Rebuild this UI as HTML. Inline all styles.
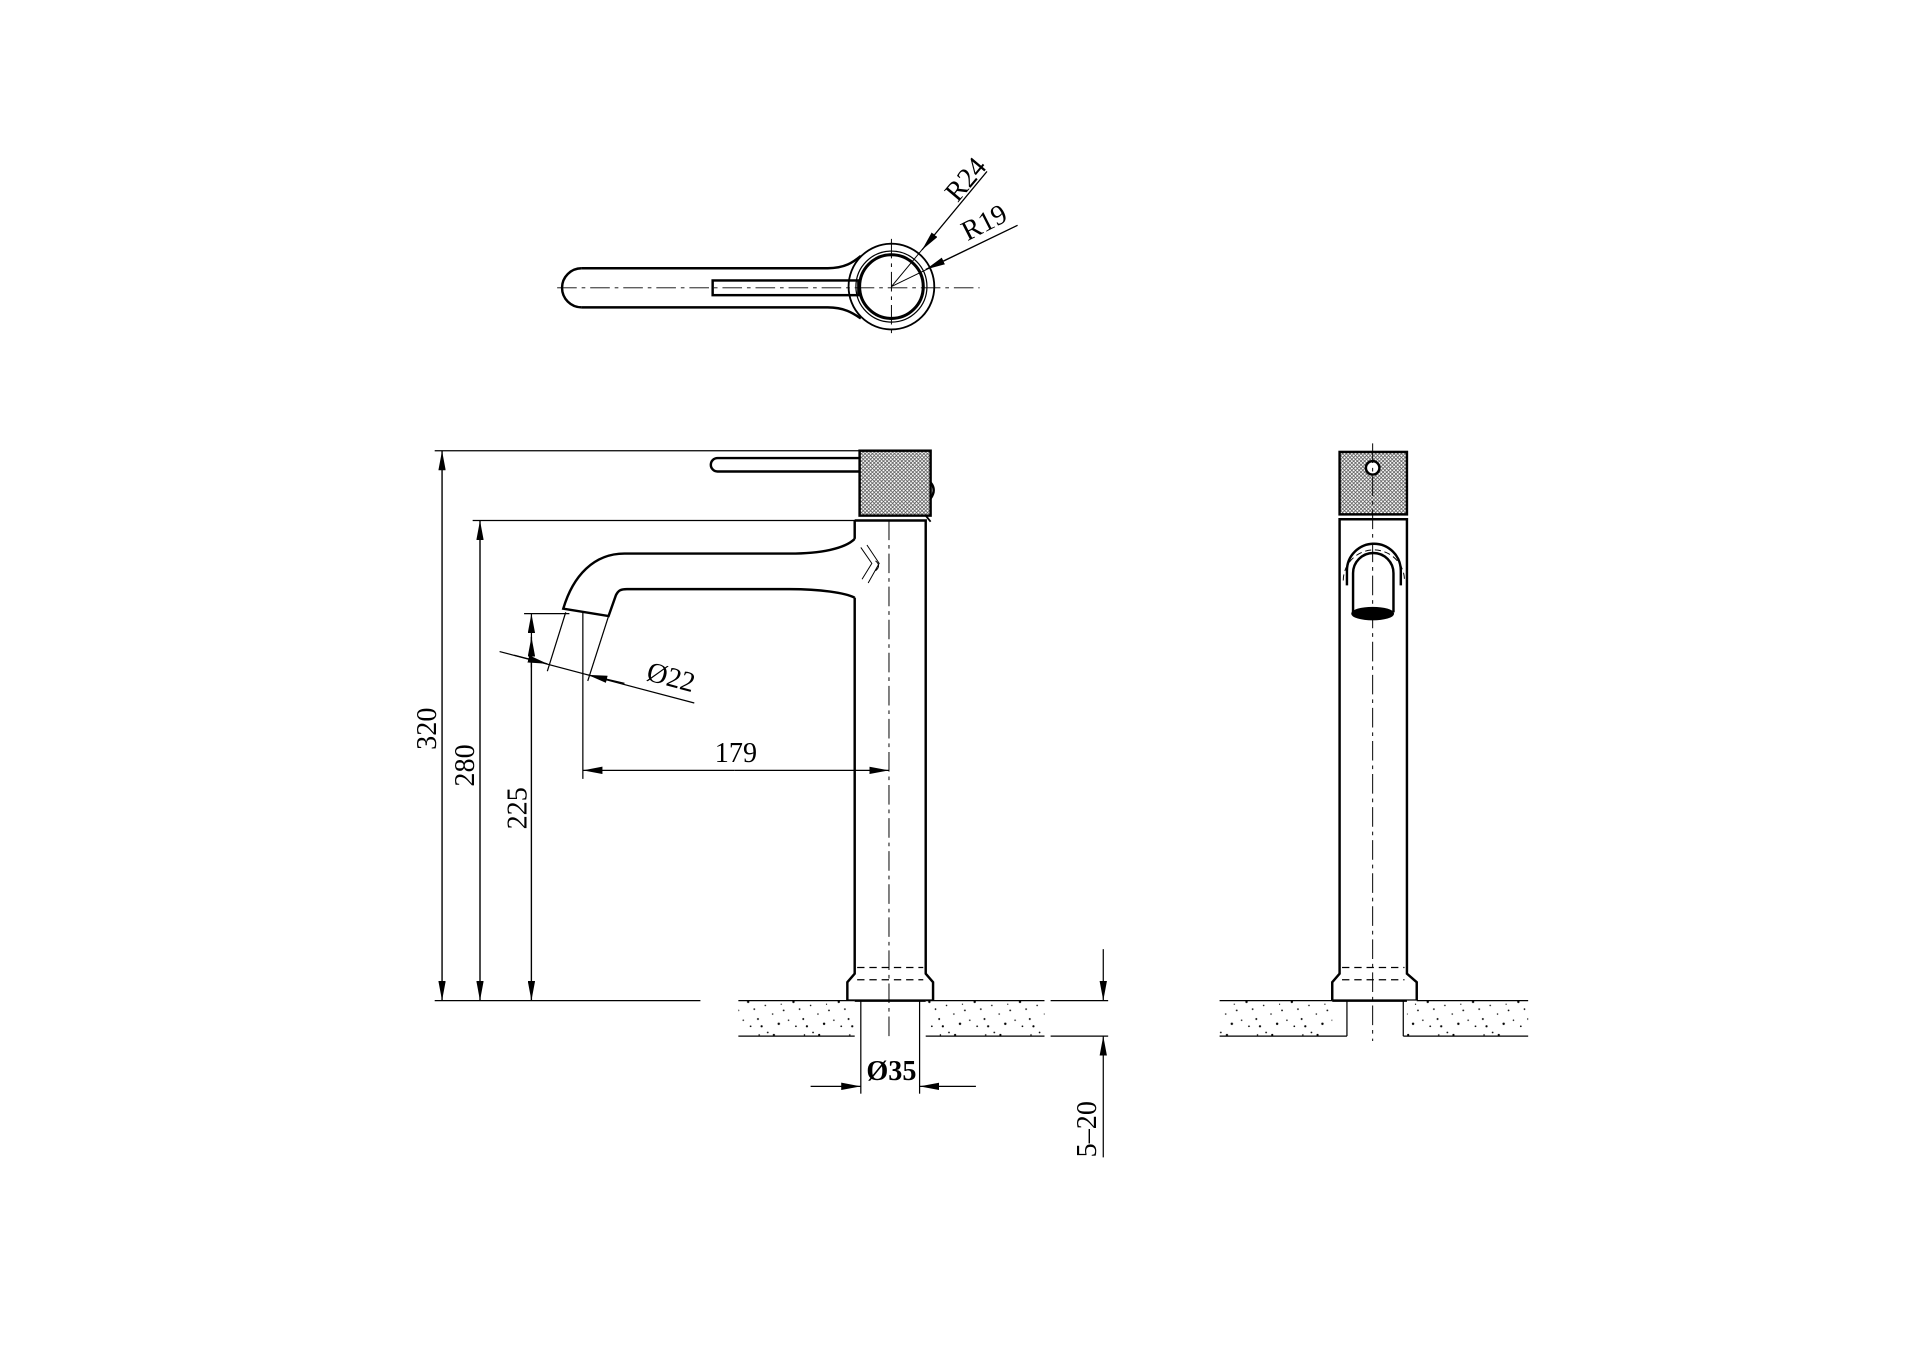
<!DOCTYPE html>
<html><head><meta charset="utf-8"><style>
html,body{margin:0;padding:0;background:#fff;}
svg{display:block;}
text{font-family:"Liberation Serif",serif;fill:#000;}
</style></head><body>
<svg width="1920" height="1357" viewBox="0 0 1568 1108" preserveAspectRatio="none" xmlns="http://www.w3.org/2000/svg">
<defs>
<pattern id="knurl" width="3" height="3" patternUnits="userSpaceOnUse">
<rect width="3" height="3" fill="#fff"/>
<path d="M0,0L3,3M3,0L0,3" stroke="#555" stroke-width="0.6"/>
</pattern>
<pattern id="speck" width="37" height="29" patternUnits="userSpaceOnUse">
<rect width="37" height="29" fill="#fff"/>
<g fill="#000">
<circle cx="3" cy="4" r="0.9"/><circle cx="11" cy="13" r="0.7"/><circle cx="19" cy="6" r="1"/>
<circle cx="27" cy="20" r="0.8"/><circle cx="33" cy="9" r="0.6"/><circle cx="7" cy="24" r="1"/>
<circle cx="15" cy="21" r="0.6"/><circle cx="24" cy="12" r="0.7"/><circle cx="30" cy="26" r="0.9"/>
<circle cx="2" cy="16" r="0.6"/><circle cx="21" cy="26" r="0.7"/><circle cx="35" cy="2" r="0.7"/>
<circle cx="9" cy="8" r="0.5"/><circle cx="28" cy="4" r="0.6"/>
</g></pattern>
<marker id="ar" viewBox="0 0 16 6" refX="16" refY="3" markerWidth="16" markerHeight="6" markerUnits="userSpaceOnUse" orient="auto">
<path d="M0,0L16,3L0,6Z" fill="#000"/></marker>
</defs>

<g fill="none" stroke="#000" stroke-width="1">
<!-- ===== TOP VIEW ===== -->
<path d="M475,219 L676,219 C690,219 697,214 703,209 M475,251 L676,251 C690,251 697,256 703,260" stroke-width="2"/>
<path d="M475,219 A16,16 0 0 0 475,251" stroke-width="2"/>
<rect x="582" y="229" width="119" height="12" stroke-width="2"/>
<circle cx="728" cy="234" r="35" stroke-width="1.5"/>
<circle cx="728" cy="234" r="29" stroke-width="1"/>
<circle cx="728" cy="234" r="26" stroke-width="2.5"/>
<path d="M455,235 H800 M728,195 V275" stroke-dasharray="16,4,3,4" stroke-width="0.8"/>
<line x1="728" y1="234" x2="806" y2="140" stroke-width="0.8"/>
<line x1="728" y1="234" x2="831" y2="184" stroke-width="0.8"/>
<line x1="806" y1="140" x2="753" y2="204" marker-end="url(#ar)"/>
<line x1="831" y1="184" x2="756" y2="220" marker-end="url(#ar)"/>

<!-- ===== SIDE VIEW ===== -->
<line x1="355" y1="368" x2="705" y2="368"/>
<line x1="386" y1="425" x2="700" y2="425"/>
<line x1="428" y1="501" x2="465" y2="501"/>
<line x1="355" y1="817" x2="572" y2="817"/>
<line x1="361" y1="817" x2="361" y2="368" marker-end="url(#ar)"/>
<line x1="361" y1="368" x2="361" y2="817" marker-end="url(#ar)"/>
<line x1="392" y1="817" x2="392" y2="425" marker-end="url(#ar)"/>
<line x1="392" y1="425" x2="392" y2="817" marker-end="url(#ar)"/>
<line x1="434" y1="817" x2="434" y2="501" marker-end="url(#ar)"/>
<line x1="434" y1="520" x2="434" y2="817" marker-end="url(#ar)"/>
<line x1="434" y1="545" x2="434" y2="520" marker-end="url(#ar)"/>
<!-- head -->
<rect x="702" y="368" width="58" height="53" fill="url(#knurl)" stroke-width="2"/>
<path d="M760,394 Q765,400 760,407" stroke-width="2"/>
<path d="M756,421 L760,426" stroke-width="1.5"/>
<!-- lever -->
<path d="M702,374 H586 A5,5 0 0 0 586,385 H702" stroke-width="2"/>
<!-- body -->
<path d="M698,425 V440 M698,488 V795 L692,802 V817 H762 V802 L756,795 V425 H698" stroke-width="2"/>
<line x1="700" y1="790" x2="754" y2="790" stroke-dasharray="6,4"/>
<line x1="700" y1="800" x2="754" y2="800" stroke-dasharray="6,4"/>
<line x1="726" y1="425" x2="726" y2="850" stroke-dasharray="16,4,3,4" stroke-width="0.8"/>
<!-- spout -->
<path d="M698,440 C690,448 670,452 645,452 L510,452 C485,452 468,470 460,497 L497,503 L503,486 C505,482 507,481 512,481 L645,481 C670,481 690,484 698,488" stroke-width="2"/>
<path d="M703,447 L712,460 L704,473 M708,445 L718,460 L709,476 M715,458 Q720,462 715,466" stroke-width="0.8"/>
<!-- counter -->
<rect x="603" y="817" width="95" height="29" fill="url(#speck)" stroke="none"/>
<rect x="756" y="817" width="97" height="29" fill="url(#speck)" stroke="none"/>
<path d="M603,817 H698 M756,817 H853 M603,846 H698 M756,846 H853"/>
<line x1="858" y1="817" x2="905" y2="817"/>
<line x1="858" y1="846" x2="905" y2="846"/>
<line x1="703" y1="817" x2="703" y2="893"/>
<line x1="751" y1="817" x2="751" y2="893"/>
<line x1="662" y1="887" x2="703" y2="887" marker-end="url(#ar)"/>
<line x1="797" y1="887" x2="751" y2="887" marker-end="url(#ar)"/>
<!-- 5-20 -->
<line x1="901" y1="775" x2="901" y2="817" marker-end="url(#ar)"/>
<line x1="901" y1="945" x2="901" y2="846" marker-end="url(#ar)"/>
<!-- 179 -->
<line x1="476" y1="500" x2="476" y2="636"/>
<line x1="600" y1="629" x2="476" y2="629" marker-end="url(#ar)"/>
<line x1="600" y1="629" x2="726" y2="629" marker-end="url(#ar)"/>
<!-- Ø22 -->
<line x1="462" y1="500" x2="447" y2="548"/>
<line x1="497" y1="503" x2="480" y2="556"/>
<line x1="408" y1="532" x2="567" y2="574"/>
<line x1="420" y1="535" x2="447" y2="542" marker-end="url(#ar)"/>
<line x1="510" y1="558" x2="480" y2="551" marker-end="url(#ar)"/>

<!-- ===== FRONT VIEW ===== -->
<rect x="1094" y="369" width="55" height="51" fill="url(#knurl)" stroke-width="2"/>
<circle cx="1121" cy="382" r="5.5" fill="#fff" stroke-width="2"/>
<path d="M1094,424 V795 L1088,802 V817 H1157 V802 L1149,795 V424 Z" stroke-width="2"/>
<line x1="1096" y1="790" x2="1147" y2="790" stroke-dasharray="6,4"/>
<line x1="1096" y1="800" x2="1147" y2="800" stroke-dasharray="6,4"/>
<path d="M1100,478 V466 A22,22 0 0 1 1144,466 V478" stroke-width="2"/>
<path d="M1097,474 A25,25 0 0 1 1147,474" stroke-width="0.8" stroke-dasharray="5,3"/>
<path d="M1105,500 V468 A16,16 0 0 1 1138,468 V500" stroke-width="2"/>
<ellipse cx="1121" cy="501" rx="17" ry="5" fill="#000"/>
<line x1="1121" y1="362" x2="1121" y2="850" stroke-dasharray="16,4,3,4" stroke-width="0.8"/>
<rect x="996" y="817" width="92" height="29" fill="url(#speck)" stroke="none"/>
<rect x="1149" y="817" width="99" height="29" fill="url(#speck)" stroke="none"/>
<path d="M996,817 H1088 M1157,817 H1248 M996,846 H1100 M1146,846 H1248"/>
<line x1="1100" y1="817" x2="1100" y2="846"/>
<line x1="1146" y1="817" x2="1146" y2="846"/>
</g>

<!-- labels -->
<g font-size="23">
<text transform="translate(782,166) rotate(-50)">R24</text>
<text transform="translate(790,197) rotate(-27)">R19</text>
<text transform="translate(356,595) rotate(-90)" text-anchor="middle">320</text>
<text transform="translate(387,625) rotate(-90)" text-anchor="middle">280</text>
<text transform="translate(430,660) rotate(-90)" text-anchor="middle">225</text>
<text x="601" y="622" text-anchor="middle">179</text>
<text transform="translate(527,555) rotate(15)">Ø22</text>
<text x="728" y="882" text-anchor="middle" font-weight="bold">Ø35</text>
<text transform="translate(895,922) rotate(-90)" text-anchor="middle">5–20</text>
</g>
</svg>
</body></html>
